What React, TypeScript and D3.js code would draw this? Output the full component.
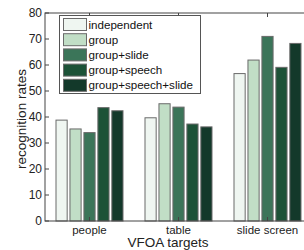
import * as d3 from "d3";

const categories = ["people", "table", "slide screen"];
const seriesNames = [
  "independent",
  "group",
  "group+slide",
  "group+speech",
  "group+speech+slide",
];
const independent = [38.8, 39.7, 56.7];
const group = [35.4, 45.1, 61.9];
const groupSlide = [34.0, 43.8, 71.0];
const groupSpeech = [43.6, 37.3, 59.1];
const groupSpeechSlide = [42.4, 36.2, 68.3];
const yTicks = [0, 10, 20, 30, 40, 50, 60, 70, 80];
const colors = ["#eff6f1", "#c1dec6", "#3b7559", "#1c5237", "#13392a"];

const seriesValues = [independent, group, groupSlide, groupSpeech, groupSpeechSlide];

const width = 304;
const height = 250;
const left = 45;
const right = 312;
const top = 13;
const bottom = 221;
const font = "'Liberation Sans', Arial, Helvetica, sans-serif";

export default function App() {
  const x = d3.scaleBand<string>().domain(categories).range([left, right]);
  const y = d3.scaleLinear().domain([0, 80]).range([bottom, top]);
  const groupWidth = 67;
  const inner = d3
    .scaleBand<string>()
    .domain(seriesNames)
    .range([0, groupWidth])
    .paddingInner(0.2);

  return (
    <svg
      width={width}
      height={height}
      style={{ position: "absolute", left: 0, top: 0, background: "#fff" }}
      fontFamily={font}
    >
      {/* bars */}
      {categories.map((c, ci) => {
        const cx = (x(c) as number) + x.bandwidth() / 2;
        return seriesNames.map((s, si) => {
          const v = seriesValues[si][ci];
          return (
            <rect
              key={c + s}
              x={cx - groupWidth / 2 + (inner(s) as number)}
              y={y(v)}
              width={inner.bandwidth()}
              height={y(0) - y(v)}
              fill={colors[si]}
              stroke="#6a6a6a"
              strokeWidth={1}
            />
          );
        });
      })}

      {/* axes box */}
      <rect
        x={left}
        y={top}
        width={right - left}
        height={bottom - top}
        fill="none"
        stroke="#444"
        strokeWidth={1}
      />
      {yTicks.map((t) => (
        <g key={t}>
          <line x1={left} x2={left + 4} y1={y(t)} y2={y(t)} stroke="#444" />
          <text
            x={left - 3}
            y={y(t)}
            dy="0.35em"
            textAnchor="end"
            fontSize={12}
            fill="#222"
          >
            {t}
          </text>
        </g>
      ))}
      {categories.map((c) => {
        const cx = (x(c) as number) + x.bandwidth() / 2;
        return (
          <g key={c}>
            <line x1={cx} x2={cx} y1={bottom} y2={bottom - 4} stroke="#444" />
            <line x1={cx} x2={cx} y1={top} y2={top + 4} stroke="#444" />
            <text x={cx} y={234} textAnchor="middle" fontSize={11.5} fill="#222">
              {c}
            </text>
          </g>
        );
      })}

      <text x={168} y={247} textAnchor="middle" fontSize={13.5} fill="#222">
        VFOA targets
      </text>
      <text
        transform={`translate(26,${(top + bottom) / 2 + 2}) rotate(-90)`}
        textAnchor="middle"
        fontSize={13.5}
        fill="#222"
      >
        recognition rates
      </text>

      {/* legend */}
      <g>
        <rect x={59.5} y={15.5} width={141} height={78} fill="#fff" stroke="#555" />
        {seriesNames.map((s, i) => (
          <g key={s}>
            <rect
              x={63.5}
              y={18.5 + i * 15.2}
              width={23}
              height={12}
              fill={colors[i]}
              stroke="#6a6a6a"
            />
            <text
              x={88.5}
              y={24.5 + i * 15.2}
              dy="0.35em"
              fontSize={11.6}
              fill="#111"
            >
              {s}
            </text>
          </g>
        ))}
      </g>
    </svg>
  );
}
